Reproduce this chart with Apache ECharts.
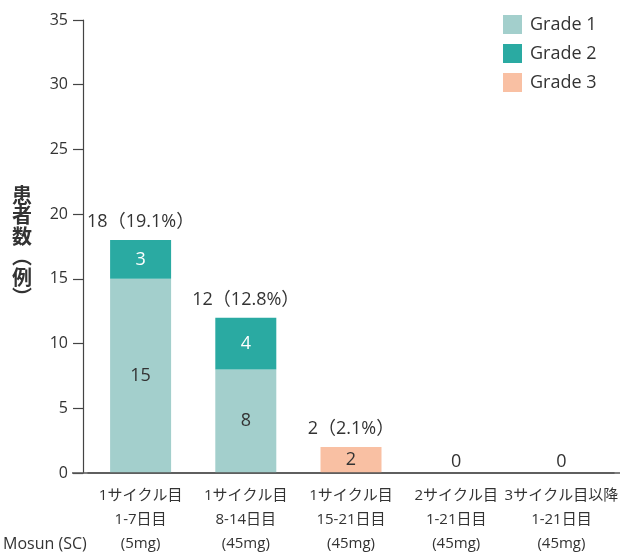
<!DOCTYPE html>
<html>
<head>
<meta charset="utf-8">
<script src="https://cdn.jsdelivr.net/npm/echarts@6/dist/echarts.min.js"></script>
<style>
html,body{margin:0;padding:0;background:#fff;}
#chart{width:621px;height:556px;}
</style>
</head>
<body>
<div id="chart"></div>
<script>
var categories = [
  '1サイクル目\n1-7日目\n(5mg)',
  '1サイクル目\n8-14日目\n(45mg)',
  '1サイクル目\n15-21日目\n(45mg)',
  '2サイクル目\n1-21日目\n(45mg)',
  '3サイクル目以降\n1-21日目\n(45mg)'
];
var grade1 = [15, 8, null, null, null];
var grade2 = [3, 4, null, null, null];
var grade3 = [null, null, 2, null, null];
var totals = [18, 12, 2, 0, 0];
var percents = ['19.1', '12.8', '2.1', null, null];
var yTicks = [0, 5, 10, 15, 20, 25, 30, 35];

var FONT = '"Open Sans", "Noto Sans CJK JP", sans-serif';
var CJK = '"Noto Sans CJK JP", "Noto Sans", sans-serif';
var TXT = '#333333';
var C1 = '#a3cfcc', C2 = '#2aaaa2', C3 = '#f9c0a3';

function innerFmt(p) { return p.value == null ? '' : String(p.value); }

var chart = echarts.init(document.getElementById('chart'));
var option = {
  animation: false,
  backgroundColor: '#ffffff',
  textStyle: { fontFamily: FONT },
  grid: { left: 88, right: 5, top: 20, bottom: 82.5, containLabel: false },
  legend: {
    data: ['Grade 1', 'Grade 2', 'Grade 3'],
    orient: 'vertical',
    left: 498, top: 10,
    itemWidth: 19, itemHeight: 19, itemGap: 10,
    icon: 'rect',
    textStyle: { fontSize: 18, color: TXT, fontFamily: FONT, padding: [0, 0, 0, 3], lineHeight: 19 }
  },
  xAxis: {
    type: 'category',
    data: categories,
    axisLine: { show: true, lineStyle: { color: '#555', width: 1.5 } },
    axisTick: { show: false },
    axisLabel: { fontSize: 15, color: TXT, lineHeight: 24, margin: 11, interval: 0, fontFamily: FONT }
  },
  yAxis: {
    type: 'value',
    min: yTicks[0], max: yTicks[yTicks.length - 1], interval: 5,
    offset: 5,
    name: '患\n者\n数\n︵\n例\n︶',
    nameLocation: 'middle',
    nameRotate: 0,
    nameGap: 51,
    nameTextStyle: { fontSize: 20, fontWeight: 'bold', color: TXT, lineHeight: 20.5, fontFamily: CJK, padding: [12, 0, 0, 0] },
    axisLine: { show: true, lineStyle: { color: '#444', width: 1.2 } },
    axisTick: { show: true, length: 10, lineStyle: { color: '#444', width: 1.2 } },
    axisLabel: { fontSize: 16, color: TXT, margin: 15, fontFamily: FONT },
    splitLine: { show: false }
  },
  series: [
    {
      name: 'Grade 1', type: 'bar', stack: 'g', data: grade1, barWidth: 61,
      itemStyle: { color: C1 },
      label: { show: true, position: 'inside', fontSize: 18, color: TXT, formatter: innerFmt }
    },
    {
      name: 'Grade 2', type: 'bar', stack: 'g', data: grade2, barWidth: 61,
      itemStyle: { color: C2 },
      label: { show: true, position: 'inside', fontSize: 18, color: '#ffffff', formatter: innerFmt }
    },
    {
      name: 'Grade 3', type: 'bar', stack: 'g', data: grade3, barWidth: 61,
      itemStyle: { color: C3 },
      label: { show: true, position: 'inside', fontSize: 18, color: TXT, formatter: innerFmt }
    },
    {
      name: 'total', type: 'bar', barWidth: 61, barGap: '-100%', z: 1,
      itemStyle: { color: 'rgba(0,0,0,0)' },
      emphasis: { disabled: true },
      data: totals.map(function (v) {
        return { value: v, label: { distance: v === 0 ? 2 : 9 } };
      }),
      label: {
        show: true, position: 'top', fontSize: 18, color: TXT, fontFamily: FONT,
        formatter: function (p) {
          var pc = percents[p.dataIndex];
          return pc ? p.value + '（' + pc + '%）' : String(p.value);
        }
      }
    }
  ]
};
chart.setOption(option);

var y0 = chart.convertToPixel({ yAxisIndex: 0 }, 0);
chart.setOption({
  graphic: [
    {
      type: 'text', left: 3, top: 536,
      style: { text: 'Mosun (SC)', fontSize: 16, fill: TXT, fontFamily: FONT }
    },
    {
      type: 'line', shape: { x1: 72, y1: y0, x2: 620, y2: y0 },
      style: { stroke: '#555', lineWidth: 1.5 }, z: 5
    }
  ]
});
</script>
</body>
</html>
